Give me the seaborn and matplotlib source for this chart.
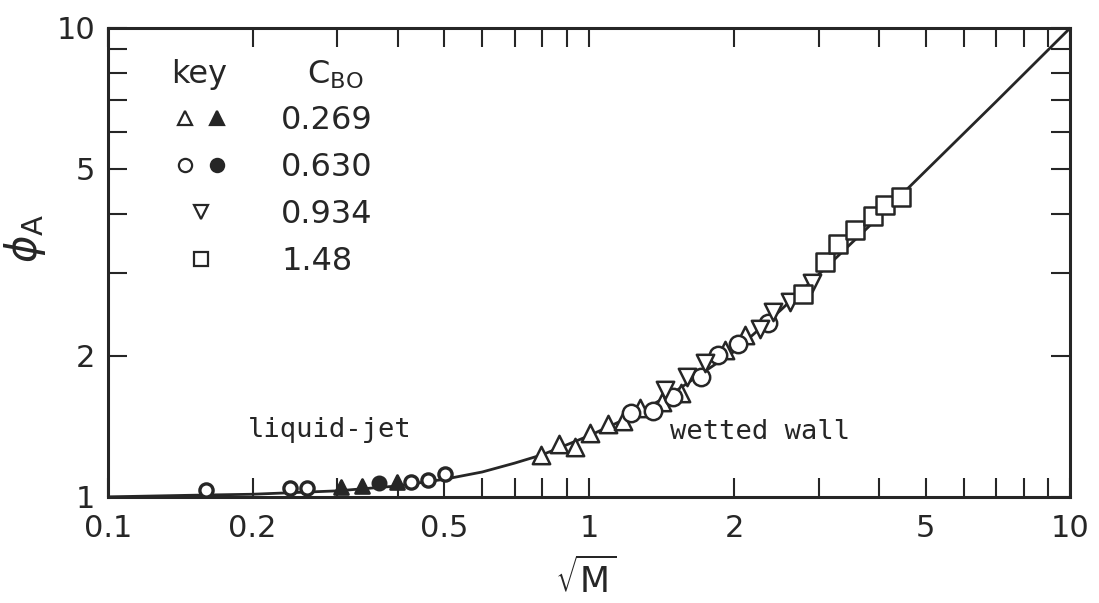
import matplotlib
matplotlib.use("Agg")
import matplotlib.pyplot as plt
import seaborn as sns
from matplotlib.lines import Line2D
from matplotlib.legend_handler import HandlerTuple
from matplotlib.ticker import FixedLocator, NullFormatter

# values (sqrt(M), phi_A), log-log axes
curve_x = [0.1, 0.15, 0.2, 0.3, 0.4, 0.5, 0.6, 0.7, 0.8, 1.0, 1.25, 1.5,
           2.0, 2.5, 3.0, 4.0, 5.0, 7.0, 10.0]
curve_y = [1.0, 1.008, 1.013, 1.03, 1.055, 1.09, 1.13, 1.18, 1.23, 1.35,
           1.50, 1.67, 2.04, 2.50, 2.98, 3.95, 4.95, 6.95, 10.0]

# liquid-jet points
jet_open_circle_x = [0.160, 0.239, 0.259, 0.427, 0.463, 0.502]
jet_open_circle_y = [1.035, 1.045, 1.045, 1.076, 1.087, 1.119]
jet_fill_circle_x = [0.366]
jet_fill_circle_y = [1.071]
jet_fill_tri_x = [0.305, 0.337, 0.399]
jet_fill_tri_y = [1.050, 1.055, 1.076]

# wetted wall points
ww_tri_x = [0.794, 0.866, 0.935, 1.005, 1.095, 1.178, 1.276, 1.418, 1.553, 1.918, 2.110]
ww_tri_y = [1.229, 1.297, 1.278, 1.369, 1.431, 1.453, 1.548, 1.594, 1.666, 2.058, 2.215]
ww_circle_x = [1.223, 1.358, 1.495, 1.709, 1.854, 2.040, 2.357]
ww_circle_y = [1.511, 1.525, 1.634, 1.802, 2.007, 2.119, 2.350]
ww_dtri_x = [1.439, 1.598, 1.743, 2.268, 2.413, 2.617, 2.908]
ww_dtri_y = [1.691, 1.802, 1.931, 2.281, 2.481, 2.605, 2.859]
ww_square_x = [2.786, 3.094, 3.294, 3.573, 3.893, 4.124, 4.452]
ww_square_y = [2.709, 3.170, 3.462, 3.710, 3.970, 4.195, 4.362]

key_labels = ["0.269", "0.630", "0.934", "1.48"]

x_major = [0.1, 0.2, 0.5, 1, 2, 5, 10]
x_major_labels = ["0.1", "0.2", "0.5", "1", "2", "5", "10"]
x_minor = [0.3, 0.4, 0.6, 0.7, 0.8, 0.9, 3, 4, 6, 7, 8, 9]
y_major = [1, 2, 5, 10]
y_major_labels = ["1", "2", "5", "10"]
y_minor = [3, 4, 6, 7, 8, 9]

INK = "#262626"

sns.set_style("ticks")
plt.rcParams["font.family"] = ["DejaVu Sans"]
plt.rcParams["mathtext.fontset"] = "dejavusans"

fig = plt.figure(figsize=(10.99, 6.03), dpi=100)
ax = fig.add_axes([0.098, 0.176, 0.876, 0.778])
ax.set_xscale("log")
ax.set_yscale("log")

sns.lineplot(x=curve_x, y=curve_y, color=INK, linewidth=2.0, ax=ax,
             sort=False, zorder=2)


def points(xs, ys, marker, filled, size, lw):
    sns.scatterplot(x=xs, y=ys, marker=marker, s=size ** 2,
                    color=INK if filled else "white", edgecolor=INK,
                    linewidth=lw, ax=ax, zorder=3, legend=False)


points(jet_open_circle_x, jet_open_circle_y, "o", False, 9.5, 2.4)
points(jet_fill_circle_x, jet_fill_circle_y, "o", True, 9.5, 2.0)
points(jet_fill_tri_x, jet_fill_tri_y, "^", True, 10, 2.0)
points(ww_tri_x, ww_tri_y, "^", False, 12.5, 1.8)
points(ww_circle_x, ww_circle_y, "o", False, 12.5, 1.8)
points(ww_dtri_x, ww_dtri_y, "v", False, 12.5, 1.8)
points(ww_square_x, ww_square_y, "s", False, 12.5, 1.8)

ax.set_xlim(0.1, 10)
ax.set_ylim(1, 10)
ax.set_xticks(x_major, labels=x_major_labels)
ax.set_yticks(y_major, labels=y_major_labels)
ax.xaxis.set_minor_locator(FixedLocator(x_minor))
ax.yaxis.set_minor_locator(FixedLocator(y_minor))
ax.xaxis.set_minor_formatter(NullFormatter())
ax.yaxis.set_minor_formatter(NullFormatter())
ax.tick_params(which="both", direction="in", length=14, width=1.5,
               color=INK, top=True, right=True, labelcolor=INK, labelsize=22)
ax.tick_params(axis="x", pad=12)
ax.tick_params(axis="y", pad=9)
for sp in ax.spines.values():
    sp.set_linewidth(2.2)
    sp.set_color(INK)

ax.set_xlabel(r"$\sqrt{\mathrm{M}}$", fontsize=25, color=INK)
ax.set_ylabel(r"$\phi_\mathrm{A}$", fontsize=30, color=INK)
ax.xaxis.set_label_coords(0.496, -0.13)
ax.yaxis.set_label_coords(-0.062, 0.55)

ax.text(0.231, 0.143, "liquid-jet", transform=ax.transAxes, ha="center",
        va="center", fontsize=19.5, family="DejaVu Sans Mono", color=INK)
ax.text(0.678, 0.139, "wetted wall", transform=ax.transAxes, ha="center",
        va="center", fontsize=19.5, family="DejaVu Sans Mono", color=INK)

# key
ax.text(0.095, 0.90, "key", transform=ax.transAxes, ha="center",
        va="center", fontsize=23, color=INK)
ax.text(0.236, 0.90, r"C$_\mathrm{BO}$", transform=ax.transAxes,
        ha="center", va="center", fontsize=23, color=INK)


def key_mark(m, filled):
    return Line2D([], [], ls="none", marker=m, ms=9.5,
                  mfc=INK if filled else "white", mec=INK, mew=1.6)


handles = [(key_mark("^", False), key_mark("^", True)),
           (key_mark("o", False), key_mark("o", True)),
           (key_mark("v", False),),
           (key_mark("s", False),)]
ax.legend(handles, key_labels, handler_map={tuple: HandlerTuple(ndivide=None)},
          loc="upper left", bbox_to_anchor=(0.064, 0.835), frameon=False,
          fontsize=23, handlelength=2.0, handletextpad=1.5, labelspacing=0.5,
          borderpad=0, borderaxespad=0, numpoints=1, labelcolor=INK)

fig.savefig("out.png", dpi=100)
